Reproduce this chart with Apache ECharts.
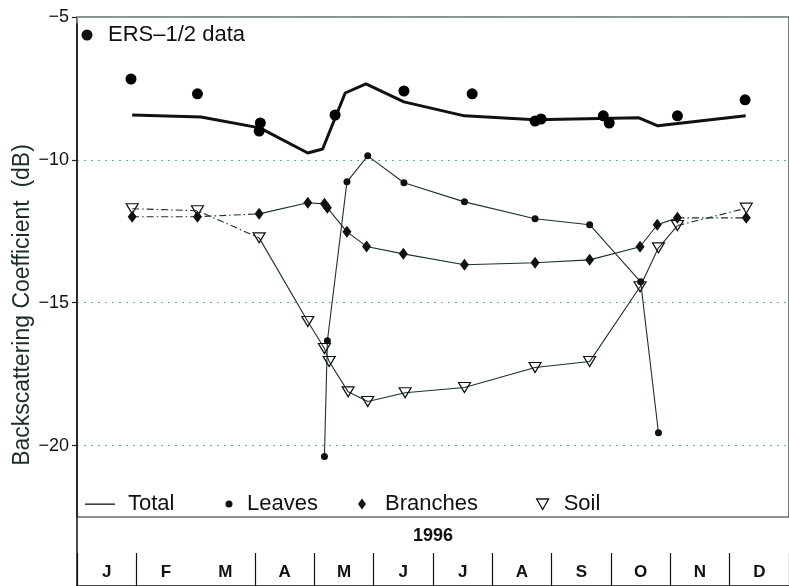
<!DOCTYPE html>
<html>
<head>
<meta charset="utf-8">
<script src="https://cdn.jsdelivr.net/npm/echarts@6/dist/echarts.min.js"></script>
<style>
  html, body { margin: 0; padding: 0; background: #fff; }
  #chart { width: 789px; height: 586px; }
</style>
</head>
<body>
<div id="chart"></div>
<script>
// Month strip and y-axis ticks
const months = ['J', 'F', 'M', 'A', 'M', 'J', 'J', 'A', 'S', 'O', 'N', 'D'];
const yTicks = [-5, -10, -15, -20];

// x = month of 1996 (0 = 1 Jan, 12 = 31 Dec), y = backscatter in dB
const ersData = [
  [0.91, -7.17], [2.03, -7.69], [3.09, -8.71], [3.07, -8.99], [4.35, -8.43],
  [5.51, -7.59], [6.66, -7.69], [7.72, -8.64], [7.82, -8.57], [8.87, -8.46],
  [8.97, -8.71], [10.12, -8.46], [11.26, -7.90]
];
const totalData = [
  [0.93, -8.43], [2.09, -8.50], [3.08, -8.88], [3.89, -9.76], [4.14, -9.62],
  [4.52, -7.66], [4.87, -7.34], [5.51, -7.97], [6.53, -8.46], [7.72, -8.60],
  [9.47, -8.53], [9.79, -8.81], [11.27, -8.46]
];
const leavesData = [
  [4.17, -20.38], [4.22, -16.33], [4.55, -10.77], [4.90, -9.86], [5.51, -10.80],
  [6.53, -11.47], [7.72, -12.06], [8.64, -12.27], [9.50, -14.27], [9.80, -19.55]
];
const branchesData = [
  [0.93, -11.99], [2.03, -11.99], [3.07, -11.89], [3.89, -11.50], [4.17, -11.54],
  [4.22, -11.68], [4.55, -12.52], [4.88, -13.03], [5.50, -13.29], [6.53, -13.67],
  [7.72, -13.60], [8.64, -13.50], [9.49, -13.04], [9.78, -12.27], [10.12, -12.03],
  [11.28, -12.03]
];
const soilData = [
  [0.93, -11.71], [2.03, -11.78], [3.07, -12.73], [3.89, -15.66], [4.17, -16.60],
  [4.25, -17.06], [4.57, -18.12], [4.90, -18.46], [5.53, -18.15], [6.53, -17.97],
  [7.72, -17.27], [8.64, -17.06], [9.49, -14.44], [9.80, -13.08], [10.12, -12.30],
  [11.28, -11.69]
];

const FONT = '"Liberation Sans", Arial, Helvetica, sans-serif';
const INK = '#111';
const LINE = '#1b3030';
const DASHDOT = [7, 3, 1.5, 3];
const TRI = 'path://M0,0 L12,0 L6,11 Z';
const DIAMOND = 'path://M4,0 L8,5.5 L4,11 L0,5.5 Z';

// Legend keys: the leading move-to points fix each key's box, so the glyph
// sits at a set spot inside it and the label follows the box.
const KEY_ERS = 'path://M0,0 M31,11 M20.5,5.5 A5.5,5.5 0 1,1 9.5,5.5 A5.5,5.5 0 1,1 20.5,5.5 Z';
const KEY_TOTAL = 'path://M0,0 M38,3 M0,1 L30,1 L30,2.3 L0,2.3 Z';
const KEY_LEAVES = 'path://M0,0 M28,7 M18.5,3.5 A3.5,3.5 0 1,1 11.5,3.5 A3.5,3.5 0 1,1 18.5,3.5 Z';
const KEY_BRANCHES = 'path://M0,0 M33,11 M15,0 L19,5.5 L15,11 L11,5.5 Z';
const KEY_SOIL = 'path://M0,0 M31,11 M9,0.5 L21,0.5 L15,11 Z';

const minus = v => String(v).replace('-', '\u2212');

// Thin connecting segment with no markers
function segment(name, data, dashed) {
  return {
    name, type: 'line', xAxisIndex: 0, yAxisIndex: 0, data,
    symbol: 'none', silent: true, z: 2,
    itemStyle: { color: INK },
    lineStyle: { color: LINE, width: 1.1, type: dashed ? DASHDOT : 'solid' }
  };
}
// Markers only
function markers(name, data, symbol, size, style) {
  return {
    name, type: 'scatter', xAxisIndex: 0, yAxisIndex: 0, data,
    symbol, symbolSize: size, z: 4, itemStyle: Object.assign({ opacity: 1 }, style)
  };
}

const legendText = { fontFamily: FONT, fontSize: 22, color: INK };
function legendAt(name, icon, w, h, left, top, style) {
  return {
    data: [{ name, icon }], left, top, itemWidth: w, itemHeight: h,
    symbolKeepAspect: false, selectedMode: false, padding: 0,
    textStyle: legendText,
    itemStyle: style || { color: INK, borderWidth: 0, opacity: 1 }
  };
}

const chart = echarts.init(document.getElementById('chart'), null, { renderer: 'canvas' });
chart.setOption({
  animation: false,
  backgroundColor: '#fff',
  grid: [
    { left: 77, right: -10, top: 17, height: 500, show: true, borderColor: '#222', borderWidth: 1.2, backgroundColor: 'transparent' },
    { left: 77, right: -10, top: 24, bottom: 0 },
    { left: 77, right: -10, top: 553, bottom: 0 }
  ],
  xAxis: [
    { gridIndex: 0, type: 'value', min: 0, max: 12, show: false },
    { gridIndex: 1, type: 'value', min: 0, max: 1, show: false },
    {
      gridIndex: 2, type: 'category', data: months, position: 'top', boundaryGap: true,
      axisLine: { show: true, lineStyle: { color: INK, width: 1.5 } },
      axisTick: { show: false },
      axisLabel: { inside: true, interval: 0, margin: 11, fontFamily: FONT, fontWeight: 'bold', fontSize: 17, color: INK },
      splitLine: { show: true, interval: (i) => i !== 2, lineStyle: { color: INK, width: 1.2 } },
      name: '1996', nameLocation: 'middle', nameGap: 8,
      nameTextStyle: { fontFamily: FONT, fontWeight: 'bold', fontSize: 18, color: INK }
    }
  ],
  yAxis: [
    {
      gridIndex: 0, type: 'value', min: -22.5, max: -5,
      axisLine: { show: false },
      axisTick: { show: true, customValues: yTicks, length: 5, lineStyle: { color: '#222', width: 1.2 } },
      axisLabel: { customValues: yTicks, formatter: minus, margin: 8, fontFamily: FONT, fontSize: 18, color: INK },
      splitLine: { show: true, lineStyle: { type: [2, 5], color: '#5fb0b0', width: 1 } }
    },
    {
      gridIndex: 1, type: 'value', min: 0, max: 1,
      axisLine: { show: true, lineStyle: { color: INK, width: 1.5 } },
      axisTick: { show: false }, axisLabel: { show: false }, splitLine: { show: false },
      name: 'Backscattering Coefficient  (dB)', nameLocation: 'middle', nameGap: 43,
      nameTextStyle: { fontFamily: FONT, fontSize: 23, color: '#1d2b2b' }
    },
    { gridIndex: 2, type: 'value', show: false }
  ],
  legend: [
    legendAt('ERS\u20131/2 data', KEY_ERS, 31, 11, 72, 24),
    legendAt('Total', KEY_TOTAL, 38, 3, 85, 493),
    legendAt('Leaves', KEY_LEAVES, 28, 7, 214, 493),
    legendAt('Branches', KEY_BRANCHES, 33, 11, 347, 493),
    legendAt('Soil', KEY_SOIL, 31, 11, 527, 493,
      { color: 'rgba(255,255,255,0)', borderColor: INK, borderWidth: 1.3 })
  ],
  series: [
    {
      name: 'Total', type: 'line', xAxisIndex: 0, yAxisIndex: 0, data: totalData,
      symbol: 'none', z: 3, lineStyle: { color: INK, width: 3 }, itemStyle: { color: INK }
    },
    segment('Leaves', leavesData, false),
    segment('Branches', branchesData.slice(2, 15), false),
    segment('Branches', branchesData.slice(0, 3), true),
    segment('Branches', branchesData.slice(14), true),
    segment('Soil', soilData.slice(2, 15), false),
    segment('Soil', soilData.slice(0, 3), true),
    segment('Soil', soilData.slice(14), true),
    markers('Leaves', leavesData, 'circle', 7, { color: INK }),
    markers('Branches', branchesData, DIAMOND, [9, 12], { color: INK }),
    markers('Soil', soilData, TRI, [12, 10], { color: 'rgba(255,255,255,0)', borderColor: INK, borderWidth: 1.2 }),
    markers('ERS\u20131/2 data', ersData, 'circle', 11, { color: '#000' })
  ]
});
</script>
</body>
</html>
